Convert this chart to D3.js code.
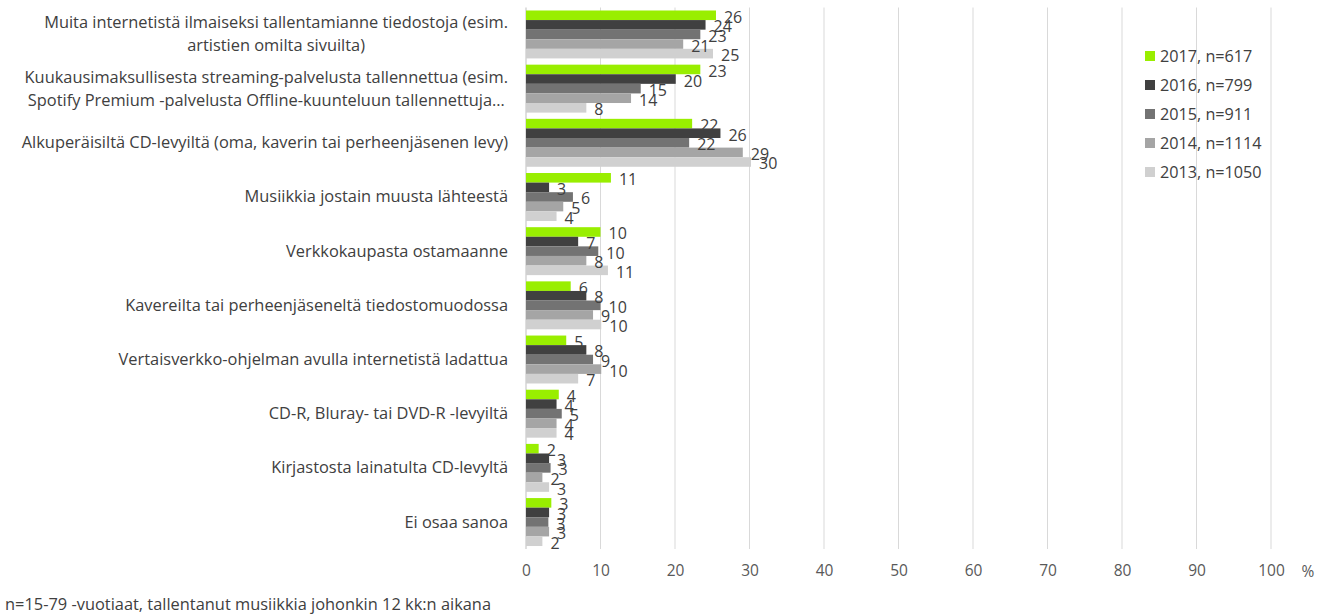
<!DOCTYPE html>
<html>
<head>
<meta charset="utf-8">
<script src="https://cdn.jsdelivr.net/npm/d3@7"></script>
<style>
  body { margin: 0; background: #fff; }
  text { font-family: "Open Sans", Lato, sans-serif; }
</style>
</head>
<body>
<div id="container"></div>
<script>
/* DATA */
var categories = [
  ["Muita internetistä ilmaiseksi tallentamianne tiedostoja (esim.", "artistien omilta sivuilta)"],
  ["Kuukausimaksullisesta streaming-palvelusta tallennettua (esim.", "Spotify Premium -palvelusta Offline-kuunteluun tallennettuja…"],
  ["Alkuperäisiltä CD-levyiltä (oma, kaverin tai perheenjäsenen levy)"],
  ["Musiikkia jostain muusta lähteestä"],
  ["Verkkokaupasta ostamaanne"],
  ["Kavereilta tai perheenjäseneltä tiedostomuodossa"],
  ["Vertaisverkko-ohjelman avulla internetistä ladattua"],
  ["CD-R, Bluray- tai DVD-R -levyiltä"],
  ["Kirjastosta lainatulta CD-levyltä"],
  ["Ei osaa sanoa"]
];
var seriesNames = ["2017, n=617", "2016, n=799", "2015, n=911", "2014, n=1114", "2013, n=1050"];
var seriesColors = ["#99ee00", "#404040", "#737373", "#a5a5a5", "#d0d0d0"];
var v2017 = [25.5, 23.4, 22.3, 11.4, 10.0, 6.0, 5.4, 4.4, 1.7, 3.4];
var v2016 = [24.1, 20.1, 26.1, 3.1, 7.0, 8.1, 8.1, 4.1, 3.1, 3.1];
var v2015 = [23.4, 15.4, 21.9, 6.3, 9.7, 10.0, 9.0, 4.8, 3.3, 3.0];
var v2014 = [21.1, 14.1, 29.1, 5.0, 8.1, 9.0, 10.1, 4.1, 2.2, 3.1];
var v2013 = [25.1, 8.1, 30.2, 4.1, 11.0, 10.1, 7.0, 4.1, 3.1, 2.2];
var seriesValues = [v2017, v2016, v2015, v2014, v2013];
var xTicks = [0, 10, 20, 30, 40, 50, 60, 70, 80, 90, 100];
var footnote = "n=15-79 -vuotiaat, tallentanut musiikkia johonkin 12 kk:n aikana";

var width = 1333, height = 614;
var labelRight = 508;

var svg = d3.select("#container")
  .append("svg")
  .attr("width", width)
  .attr("height", height);

// SCALES
var x = d3.scaleLinear().domain([0, 100]).range([526, 1271]);

var y = d3.scaleBand()
  .domain(d3.range(categories.length))
  .range([7.5, 549])
  .paddingInner(0.115)
  .paddingOuter(0.055);

var ySub = d3.scaleBand()
  .domain(d3.range(seriesNames.length))
  .range([0, y.bandwidth()]);

// gridlines
svg.append("g")
  .selectAll("line")
  .data(xTicks)
  .enter()
  .append("line")
  .attr("x1", d => x(d)).attr("x2", d => x(d))
  .attr("y1", 7.5).attr("y2", 549)
  .attr("stroke", d => d === 0 ? "#bfbfbf" : "#d9d9d9")
  .attr("stroke-width", 1);

// x axis labels
var xAxis = svg.append("g")
  .attr("transform", "translate(0,549)")
  .call(d3.axisBottom(x).tickValues(xTicks).tickSize(0).tickPadding(16));
xAxis.select(".domain").remove();
xAxis.selectAll("text")
  .style("font-family", "'Open Sans', Lato, sans-serif")
  .style("font-size", "15.5px")
  .attr("fill", "#595959");

svg.append("text")
  .attr("x", 1308).attr("y", 577)
  .attr("text-anchor", "middle")
  .attr("fill", "#595959")
  .style("font-size", "15.5px")
  .text("%");

// category labels
var catG = svg.append("g");
categories.forEach(function (lines, i) {
  var cy = y(i) + y.bandwidth() / 2;
  var t = catG.append("text")
    .attr("x", labelRight)
    .attr("text-anchor", "end")
    .attr("fill", "#404040")
    .style("font-size", "16.4px");
  lines.forEach(function (ln, j) {
    var off = (j - (lines.length - 1) / 2) * 23;
    t.append("tspan")
      .attr("x", labelRight)
      .attr("y", cy + off + 5.5)
      .text(ln);
  });
});

// center wrapped lines under the widest line
catG.selectAll("text").each(function () {
  var spans = d3.select(this).selectAll("tspan").nodes();
  if (spans.length < 2) return;
  var wMax = d3.max(spans, s => s.getComputedTextLength());
  var mid = labelRight - wMax / 2;
  spans.forEach(function (s) {
    d3.select(s).attr("x", mid + s.getComputedTextLength() / 2);
  });
});

// bars
var groups = svg.append("g")
  .selectAll("g")
  .data(categories)
  .enter()
  .append("g")
  .attr("transform", (d, i) => "translate(0," + y(i) + ")");

groups.each(function (d, i) {
  var g = d3.select(this);
  seriesValues.forEach(function (vals, s) {
    g.append("rect")
      .attr("x", x(0))
      .attr("y", ySub(s))
      .attr("width", x(vals[i]) - x(0))
      .attr("height", ySub.bandwidth())
      .attr("fill", seriesColors[s]);
  });
  seriesValues.forEach(function (vals, s) {
    g.append("text")
      .attr("x", x(vals[i]) + 8)
      .attr("y", ySub(s) + ySub.bandwidth() / 2 + 7.5)
      .attr("fill", "#404040")
      .style("font-size", "16px")
      .text(Math.round(vals[i]));
  });
});

// legend
var legend = svg.append("g")
  .selectAll("g")
  .data(seriesNames)
  .enter()
  .append("g")
  .attr("transform", (d, i) => "translate(1145," + (56 + i * 29) + ")");

legend.append("rect")
  .attr("x", 0).attr("y", -5)
  .attr("width", 10).attr("height", 10)
  .attr("fill", (d, i) => seriesColors[i]);

legend.append("text")
  .attr("x", 15).attr("y", 6)
  .attr("fill", "#404040")
  .style("font-size", "16.2px")
  .text(d => d);

// footnote
svg.append("text")
  .attr("x", 5).attr("y", 610)
  .attr("fill", "#404040")
  .style("font-size", "16.4px")
  .text(footnote);
</script>
</body>
</html>
